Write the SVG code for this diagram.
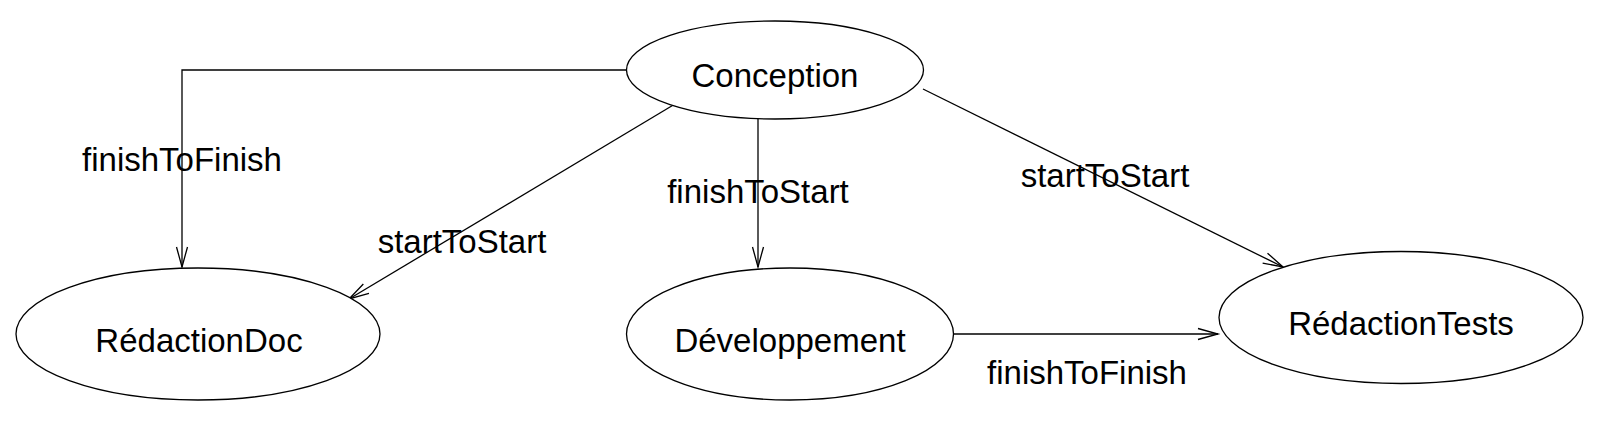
<svg xmlns="http://www.w3.org/2000/svg" width="1606" height="422" viewBox="0 0 1606 422">
<style>
.node ellipse{fill:#fff;stroke:#000;stroke-width:1.3}
text{font-family:"Liberation Sans",Arial,sans-serif;font-size:33px;fill:#000;text-anchor:middle}
.edges path{fill:none;stroke:#000;stroke-width:1.3;marker-end:url(#arr)}
</style>
<defs>
<marker id="arr" markerUnits="userSpaceOnUse" orient="auto" markerWidth="30" markerHeight="20" refX="0" refY="0" viewBox="-25 -10 30 20" overflow="visible">
<path d="M-20,-5.5 L0,0 L-20,5.5" fill="none" stroke="#000" stroke-width="1.3"/>
</marker>
</defs>
<rect width="1606" height="422" fill="#fff"/>
<g class="edges">
<path d="M626,70 L182,70 L182,267"/>
<path d="M675,104 L349,299"/>
<path d="M758,119 L758,267"/>
<path d="M923,89 L1283,267"/>
<path d="M953,334 L1218,334"/>
<text x="182" y="171">finishToFinish</text>
<text x="462" y="253">startToStart</text>
<text x="758" y="203">finishToStart</text>
<text x="1105" y="187">startToStart</text>
<text x="1087" y="384">finishToFinish</text>
</g>
<g id="conception" class="node"><ellipse cx="775" cy="70" rx="148.5" ry="49"/><text x="775" y="87">Conception</text></g>
<g id="redactiondoc" class="node"><ellipse cx="198" cy="334" rx="182" ry="66"/><text x="199" y="352">RédactionDoc</text></g>
<g id="developpement" class="node"><ellipse cx="790" cy="334" rx="163.5" ry="66"/><text x="790" y="352">Développement</text></g>
<g id="redactiontests" class="node"><ellipse cx="1401" cy="317.5" rx="182" ry="66"/><text x="1401" y="335">RédactionTests</text></g>
</svg>
